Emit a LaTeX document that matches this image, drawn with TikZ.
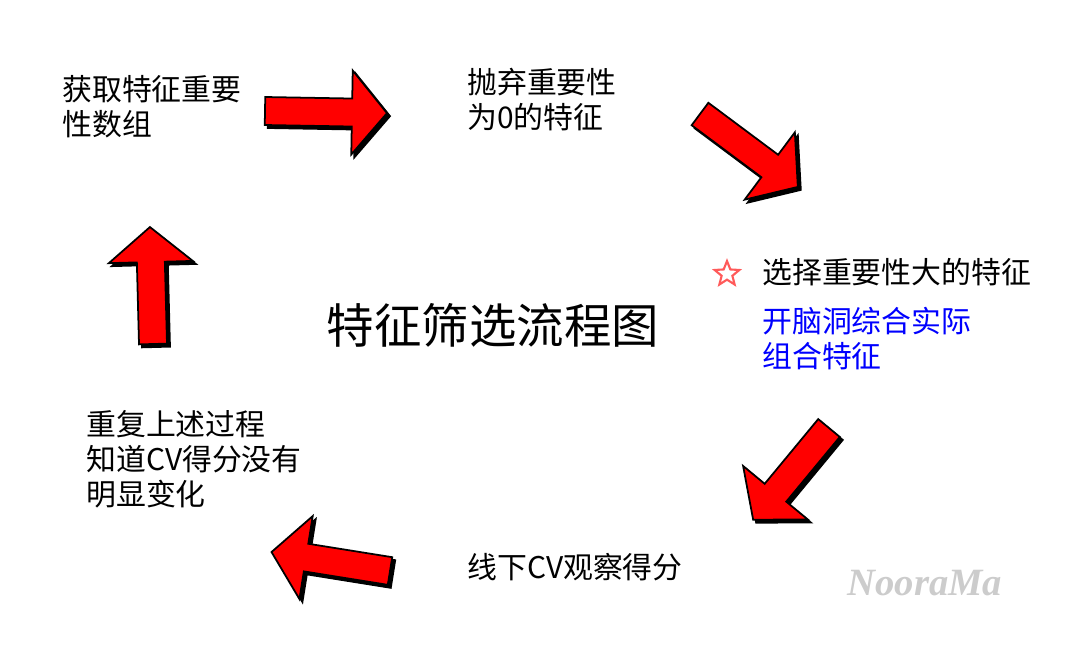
\documentclass[tikz,border=0pt]{standalone}
\usepackage{fontspec}
\setmainfont{Noto Sans CJK SC}
\newfontfamily\markfont{Liberation Serif}
\usetikzlibrary{shapes.geometric}
\definecolor{arrowred}{RGB}{255,0,0}
\definecolor{noteblue}{RGB}{0,0,255}
\definecolor{starred}{RGB}{255,90,90}

% fat arrow: tail coordinate, angle, length (in px units)
\newcommand{\fatarrow}[3]{%
  \foreach \dx/\col in {3/black,0/arrowred}{
    \filldraw[fill=\col, draw=black, line width=1pt, shift={#1},
      xshift=\dx*0.02cm, yshift=-\dx*0.02cm, rotate=#2]
      (0,-14) -- (#3-35,-14) -- (#3-35,-42) -- (#3,0) -- (#3-35,42)
      -- (#3-35,14) -- (0,14) -- cycle;
  }}

\begin{document}
\begin{tikzpicture}[x=0.02cm, y=-0.02cm,
  txt/.style={anchor=north west, inner sep=0pt, align=left, font=\fontsize{17}{20}\selectfont}]
\useasboundingbox (0,0) rectangle (1092,664);

\node[txt] (imp) at (62,75) {获取特征重要\\性数组};
\node[txt] (drop) at (467,68) {抛弃重要性\\为0的特征};
\node[star, star points=5, star point ratio=2.3, draw=starred, line width=1.2pt,
  minimum size=0.52cm, inner sep=0pt] (mark) at (727,274) {};
\node[txt, anchor=west] (pick) at (762,272) {选择重要性大的特征};
\node[txt, text=noteblue] (idea) at (762,307) {开脑洞综合实际\\组合特征};
\node[inner sep=0pt, font=\fontsize{27}{30}\selectfont] (title) at (493,325) {特征筛选流程图};
\node[txt] (again) at (86,410) {重复上述过程\\知道CV得分没有\\明显变化};
\node[txt, anchor=west] (cv) at (467,567) {线下CV观察得分};
\node[inner sep=0pt, text=gray!40, font=\markfont\fontsize{22}{24}\selectfont\bfseries\itshape] (sign) at (925,583) {NooraMa};

% arrows round the loop
\coordinate (a1) at (265,111);
\coordinate (a2) at (700,114);
\coordinate (a3) at (829,428);
\coordinate (a4) at (390,571);
\coordinate (a5) at (153,344);
\fatarrow{(a1)}{-1}{122}
\fatarrow{(a2)}{-36.7}{122}
\fatarrow{(a3)}{-129.6}{119}
\fatarrow{(a4)}{170.9}{120}
\fatarrow{(a5)}{91.5}{117}
\end{tikzpicture}
\end{document}
